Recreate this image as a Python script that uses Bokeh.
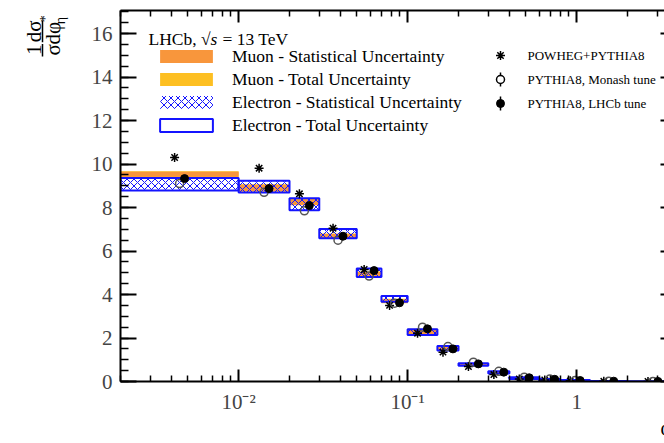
import math
from bokeh.plotting import figure
from bokeh.layouts import row
from bokeh.models import (Range1d, FixedTicker, SingleIntervalTicker, LinearAxis, LogAxis,
                          Label, Legend, LegendItem, ColumnDataSource, BasicTickFormatter,
                          CustomJSTickFormatter, Title)
from bokeh.embed import file_html
from bokeh.resources import INLINE

# ---------------- data ----------------
bin_lo = [0.002, 0.01, 0.02, 0.03, 0.05, 0.07, 0.10, 0.15, 0.20, 0.30, 0.40, 0.60, 0.80, 1.2, 2.0]
bin_hi = [0.01, 0.02, 0.03, 0.05, 0.07, 0.10, 0.15, 0.20, 0.30, 0.40, 0.60, 0.80, 1.2, 2.0, 4.0]

electron = [9.07, 8.96, 8.15, 6.80, 5.00, 3.80, 2.27, 1.53, 0.78, 0.42, 0.16, 0.09, 0.045, 0.015, 0.004]
electron_tot = [0.29, 0.27, 0.28, 0.21, 0.20, 0.13, 0.13, 0.10, 0.06, 0.05, 0.04, 0.03, 0.02, 0.01, 0.005]
electron_stat = [0.27, 0.25, 0.26, 0.19, 0.18, 0.11, 0.11, 0.08, 0.05, 0.04, 0.03, 0.02, 0.015, 0.008, 0.004]

muon = [9.53, 8.90, 8.25, 6.68, 4.95, 3.70, 2.27, 1.50, 0.79, 0.43, 0.16, 0.09, 0.045, 0.015, 0.004]
muon_tot = [0.14, 0.17, 0.15, 0.12, 0.11, 0.10, 0.16, 0.09, 0.05, 0.04, 0.03, 0.02, 0.015, 0.008, 0.004]
muon_stat = [0.12, 0.15, 0.13, 0.10, 0.09, 0.08, 0.14, 0.07, 0.04, 0.03, 0.025, 0.015, 0.012, 0.006, 0.003]

powheg = [10.30, 9.81, 8.63, 7.05, 5.15, 3.50, 2.22, 1.35, 0.69, 0.32, 0.12, 0.07, 0.03, 0.010, 0.002]
monash = [9.10, 8.70, 7.85, 6.50, 4.85, 3.60, 2.50, 1.61, 0.89, 0.47, 0.20, 0.11, 0.05, 0.016, 0.004]
lhcb_tune = [9.33, 8.87, 8.09, 6.68, 5.10, 3.62, 2.42, 1.50, 0.81, 0.43, 0.17, 0.10, 0.045, 0.015, 0.004]

major_x_ticks = [0.01, 0.1, 1.0]
major_x_labels = ["10\u207b\u00b2", "10\u207b\u00b9", "1"]

legend_box_labels = ["Muon - Statistical Uncertainty", "Muon - Total Uncertainty",
                     "Electron - Statistical Uncertainty", "Electron - Total Uncertainty"]
legend_model_labels = ["POWHEG+PYTHIA8", "PYTHIA8, Monash tune", "PYTHIA8, LHCb tune"]

# ---------------- styling / layout ----------------
SERIF = "Liberation Serif"
MU_STAT = "#f8963c"
MU_TOT = "#fdbf22"
EL_BLUE = "#1414ff"

W, H = 664, 443
SIDE = 88                       # width of the strip holding the y title
X_START, X_END = 0.002, 3.31
Y_END = 17.06
FL, FB, FW, FH = 120, 381, 544, 371   # frame geometry in canvas pixels


def px2x(px):
    a, b = math.log10(X_START), math.log10(X_END)
    return 10 ** (a + (px - FL) / FW * (b - a))


def px2y(py):
    return (FB - py) / FH * Y_END


p = figure(width=W - SIDE, height=H, x_axis_type="log",
           x_range=Range1d(X_START, X_END), y_range=Range1d(0, Y_END),
           output_backend="svg", toolbar_location=None,
           min_border_left=FL - SIDE, min_border_right=0, min_border_top=10, min_border_bottom=H - FB,
           outline_line_color=None, background_fill_color="white", border_fill_color="white")
p.grid.visible = False

# ---------------- sources ----------------
xc = [math.sqrt(a * b) for a, b in zip(bin_lo, bin_hi)]
src = ColumnDataSource(dict(
    lo=bin_lo, hi=bin_hi,
    mu_tb=[m - e for m, e in zip(muon, muon_tot)], mu_tt=[m + e for m, e in zip(muon, muon_tot)],
    mu_sb=[m - e for m, e in zip(muon, muon_stat)], mu_st=[m + e for m, e in zip(muon, muon_stat)],
    el_tb=[m - e for m, e in zip(electron, electron_tot)], el_tt=[m + e for m, e in zip(electron, electron_tot)],
    el_sb=[m - e for m, e in zip(electron, electron_stat)], el_st=[m + e for m, e in zip(electron, electron_stat)],
))

r_mu_tot = p.quad(left="lo", right="hi", bottom="mu_tb", top="mu_tt", source=src,
                  fill_color=MU_TOT, line_color=None)
r_mu_stat = p.quad(left="lo", right="hi", bottom="mu_sb", top="mu_st", source=src,
                   fill_color=MU_STAT, line_color=None)
r_el_stat = p.quad(left="lo", right="hi", bottom="el_sb", top="el_st", source=src,
                   fill_alpha=0, line_color=None, hatch_pattern="diagonal_cross",
                   hatch_color=EL_BLUE, hatch_scale=7, hatch_weight=1)
r_el_tot = p.quad(left="lo", right="hi", bottom="el_tb", top="el_tt", source=src,
                  fill_alpha=0, line_color=EL_BLUE, line_width=2)

OFF = 1.07
p.scatter([x / OFF for x in xc], powheg, marker="asterisk", size=9,
          line_color="black", line_width=1.5)
p.scatter(xc, monash, marker="circle", size=8, fill_color=None,
          line_color="#555555", line_width=1.5)
p.scatter([x * OFF for x in xc], lhcb_tune, marker="circle", size=8,
          fill_color="black", line_color="black")

# ---------------- legend: boxes ----------------
leg = Legend(items=[LegendItem(label=legend_box_labels[0], renderers=[r_mu_stat]),
                    LegendItem(label=legend_box_labels[1], renderers=[r_mu_tot]),
                    LegendItem(label=legend_box_labels[2], renderers=[r_el_stat]),
                    LegendItem(label=legend_box_labels[3], renderers=[r_el_tot])],
             location=(153 - FL, FB - 135.5), orientation="vertical",
             glyph_width=66, glyph_height=16, label_height=16, spacing=2,
             padding=0, margin=0, label_standoff=13,
             label_text_font=SERIF, label_text_font_size="17.5px", label_text_color="black",
             border_line_alpha=0, background_fill_alpha=0)
p.add_layout(leg)

# ---------------- legend: model markers (drawn by hand) ----------------
lx = px2x(500)
rows = [55, 79, 103]
p.scatter([lx], [px2y(rows[0])], marker="asterisk", size=9, line_color="black", line_width=1.5)
p.segment(x0=[lx, lx], y0=[px2y(rows[1] - 7), px2y(rows[2] - 7)],
          x1=[lx, lx], y1=[px2y(rows[1] + 7), px2y(rows[2] + 7)], line_color="black", line_width=1.5)
p.scatter([lx], [px2y(rows[1])], marker="circle", size=8, fill_color="white",
          line_color="black", line_width=1.5)
p.scatter([lx], [px2y(rows[2])], marker="circle", size=8, fill_color="black", line_color="black")
for labtxt, r in zip(legend_model_labels, rows):
    p.add_layout(Label(x=527 - FL, y=FB - r, x_units="screen", y_units="screen", text=labtxt,
                       text_font=SERIF, text_font_size="13px", text_baseline="middle",
                       text_align="left", text_color="black"))

# "LHCb, sqrt(s) = 13 TeV" with an italic s
p.add_layout(Label(x=148 - FL, y=FB - 38, x_units="screen", y_units="screen",
                   text="LHCb, \u221a", text_font=SERIF, text_font_size="17.5px",
                   text_baseline="alphabetic", text_color="black"))
p.add_layout(Label(x=210 - FL, y=FB - 38, x_units="screen", y_units="screen",
                   text="s", text_font=SERIF, text_font_size="17.5px", text_font_style="italic",
                   text_baseline="alphabetic", text_color="black"))
p.add_layout(Label(x=222 - FL, y=FB - 38, x_units="screen", y_units="screen",
                   text="= 13 TeV", text_font=SERIF, text_font_size="17.5px",
                   text_baseline="alphabetic", text_color="black"))

# ---------------- axes ----------------
xt = FixedTicker(ticks=major_x_ticks,
                 minor_ticks=[m * 10 ** e for e in range(-3, 1) for m in range(2, 10)])
ax = p.xaxis[0]
ax.ticker = xt
ax.formatter = BasicTickFormatter()
ax.major_label_overrides = dict(zip(major_x_ticks, major_x_labels))
ax.major_label_text_font = SERIF
ax.major_label_text_font_size = "21px"
ax.major_label_standoff = 8
ax.major_tick_in, ax.major_tick_out = 12, 0
ax.minor_tick_in, ax.minor_tick_out = 6, 0

ay = p.yaxis[0]
ay.ticker = SingleIntervalTicker(interval=2, num_minor_ticks=4)
ay.major_label_text_font = SERIF
ay.major_label_text_font_size = "21px"
ay.major_label_standoff = 8
ay.major_tick_in, ay.major_tick_out = 16, 0
ay.minor_tick_in, ay.minor_tick_out = 8, 0

top = LogAxis(ticker=xt, formatter=CustomJSTickFormatter(code="return ''"), major_label_standoff=0,
              major_tick_in=12, major_tick_out=0, minor_tick_in=6, minor_tick_out=0)
p.add_layout(top, "above")
right = LinearAxis(ticker=SingleIntervalTicker(interval=2, num_minor_ticks=4),
                   formatter=CustomJSTickFormatter(code="return ''"), major_label_standoff=0,
                   major_tick_in=4, major_tick_out=0, minor_tick_in=0, minor_tick_out=0)
p.add_layout(right, "right")

for a in (ax, ay, top, right):
    a.axis_line_width = 2
    a.major_tick_line_width = 2
    a.minor_tick_line_width = 1.5
    a.axis_line_color = "black"
    a.major_tick_line_color = "black"
    a.minor_tick_line_color = "black"
right.axis_line_alpha = 0

# x-axis title (cut off by the right edge in the reference)
p.add_layout(Title(text="\u03c6*\u03b7", align="right", offset=-28, standoff=0,
                   text_font=SERIF, text_font_size="20px", text_font_style="normal",
                   text_color="black", vertical_align="top"), "below")

# ---------------- y-axis title, in a strip to the left ----------------
lab = figure(width=SIDE, height=H, x_range=Range1d(0, SIDE), y_range=Range1d(0, H),
             output_backend="svg", toolbar_location=None, min_border=0,
             outline_line_color=None, background_fill_color="white", border_fill_color="white")
lab.axis.visible = False
lab.grid.visible = False


def ylab(text, cx, cy, size="21px"):
    lab.add_layout(Label(x=cx, y=H - cy, text=text, angle=math.pi / 2,
                         text_align="center", text_baseline="middle",
                         text_font=SERIF, text_font_size=size, text_color="black"))


ylab("1", 33, 47)
ylab("\u03c3", 52, 47)
ylab("d\u03c3", 33, 25)
ylab("d\u03c6", 52, 27)
ylab("*", 45, 10, size="14px")
ylab("\u03b7", 60, 12, size="14px")
lab.segment(x0=[42, 42], y0=[H - 40, H - 12], x1=[42, 42], y1=[H - 55, H - 38],
            line_color="black", line_width=1.5)

layout = row(lab, p, spacing=0)
open("out.html", "w").write(file_html(layout, INLINE))
